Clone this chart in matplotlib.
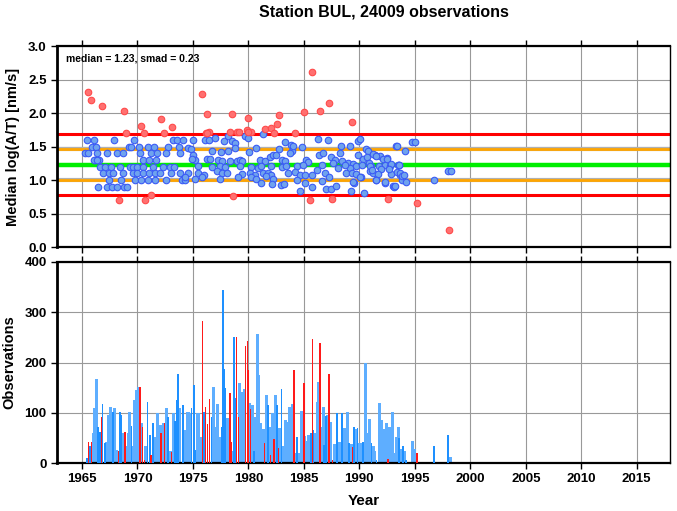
import numpy as np
import matplotlib
matplotlib.use("Agg")
import matplotlib.pyplot as plt

plt.rcParams["font.family"] = ["Liberation Sans", "DejaVu Sans"]
plt.rcParams["font.weight"] = "bold"

# -------------------------
# Datos
# -------------------------

title = "Station BUL, 24009 observations"
median_val = 1.23
smad_val = 0.23

# puntos dentro de 2*smad (azules)
blue_years = [
    1965.48, 1966.08, 1967.91, 1969.71, 1973.23, 1973.53, 1974.10,
    1965.87, 1966.26, 1969.26, 1969.41, 1970.16, 1970.91, 1971.49, 1972.77, 1973.74,
    1965.27, 1965.57, 1966.38, 1967.28, 1968.18, 1968.72, 1970.23, 1971.22, 1971.78, 1972.57, 1973.83,
    1966.17, 1966.56, 1970.47, 1971.06, 1971.67, 1966.08, 1966.32,
    1966.62, 1967.07, 1967.61, 1968.42, 1969.32, 1969.62, 1969.93, 1970.52, 1971.37, 1972.32, 1972.93, 1973.29,
    1966.86, 1967.46, 1967.82, 1968.66, 1969.56, 1969.98, 1970.52, 1971.06, 1971.58, 1972.03, 1972.99, 1973.83,
    1967.46, 1968.51, 1969.77, 1970.32, 1970.97, 1971.58, 1972.57, 1973.98, 1974.28,
    1966.47, 1967.28, 1967.67, 1968.12, 1968.78, 1969.08,
    # 1974 - 1984
    1975.03, 1976.08, 1976.45, 1976.98, 1977.82, 1978.18, 1978.48, 1978.78, 1979.68, 1979.98, 1981.33, 1983.28, 1983.88,
    1974.58, 1974.82, 1976.68, 1977.52, 1978.18, 1978.78, 1980.10, 1980.70, 1982.80, 1983.90,
    1975.03, 1975.18, 1974.88, 1976.23, 1976.53, 1977.28, 1977.58, 1978.33, 1978.93, 1979.23, 1979.38,
    1981.03, 1981.48, 1981.93, 1982.23, 1982.53, 1983.00, 1983.28, 1983.78,
    1975.48, 1976.68, 1977.43, 1977.88, 1979.23, 1980.28, 1980.88, 1981.18, 1982.08, 1983.00, 1983.40,
    1974.58, 1975.48, 1976.03, 1977.13, 1977.63, 1978.03, 1979.43, 1980.13, 1980.58, 1981.33, 1981.78, 1982.08, 1983.58,
    1974.28, 1975.18, 1975.78, 1977.43, 1979.08, 1980.28, 1980.73, 1981.63, 1982.23,
    1981.13, 1982.13, 1982.93, 1983.18,
    # 1984 - 1999
    1984.04, 1984.79, 1986.29, 1987.19, 1988.39, 1989.14, 1989.89, 1990.04, 1990.64, 1990.79, 1993.28,
    1986.38, 1986.74, 1987.49, 1988.30, 1989.89, 1990.34, 1991.39, 1991.90, 1992.53, 1990.70,
    1985.18, 1985.39, 1984.40, 1984.88, 1986.59, 1987.79, 1988.48, 1988.99, 1989.44, 1989.74,
    1990.28, 1991.09, 1991.78, 1992.29, 1992.74, 1993.49, 1988.09, 1989.14, 1990.94, 1991.99,
    1984.19, 1984.64, 1985.09, 1985.69, 1986.14, 1986.89, 1987.28, 1988.84, 1989.38, 1990.19,
    1991.24, 1991.69, 1992.89,
    1984.34, 1985.09, 1985.69, 1986.59, 1987.04, 1987.49, 1987.94, 1989.50, 1991.54, 1992.29,
    1993.04, 1989.23, 1990.40, 1984.64,
    1991.24, 1991.54, 1992.14, 1992.50, 1990.88, 1993.58, 1992.89, 1987.64, 1988.69, 1990.94,
    1991.18, 1992.68, 1993.64, 1989.68, 1990.10, 1991.48, 1992.30, 1989.44, 1993.10, 1993.88,
    1993.35, 1994.10, 1994.76, 1995.00, 1993.56, 1993.35, 1993.65, 1993.86, 1994.04, 1994.19,
    1993.20, 1996.74, 1998.00, 1998.24,
]
blue_vals = [
    1.60, 1.60, 1.60, 1.60, 1.60, 1.60, 1.60,
    1.50, 1.50, 1.50, 1.50, 1.50, 1.50, 1.50, 1.50, 1.50,
    1.40, 1.40, 1.40, 1.40, 1.40, 1.40, 1.40, 1.40, 1.40, 1.40, 1.40,
    1.30, 1.30, 1.30, 1.30, 1.30, 1.30, 1.30,
    1.20, 1.20, 1.20, 1.20, 1.20, 1.20, 1.20, 1.20, 1.20, 1.20, 1.20, 1.20,
    1.10, 1.10, 1.10, 1.10, 1.10, 1.10, 1.10, 1.10, 1.10, 1.10, 1.10, 1.10,
    1.00, 1.00, 1.00, 1.00, 1.00, 1.00, 1.00, 1.00, 1.00,
    0.90, 0.90, 0.90, 0.90, 0.90, 0.90,
    # 1974 - 1984
    1.60, 1.60, 1.60, 1.63, 1.58, 1.65, 1.58, 1.55, 1.65, 1.62, 1.68, 1.57, 1.52,
    1.48, 1.46, 1.44, 1.42, 1.43, 1.48, 1.42, 1.48, 1.47, 1.44,
    1.37, 1.30, 1.32, 1.31, 1.32, 1.30, 1.28, 1.28, 1.29, 1.30, 1.28,
    1.30, 1.28, 1.35, 1.37, 1.37, 1.30, 1.28, 1.40,
    1.21, 1.20, 1.21, 1.20, 1.21, 1.20, 1.18, 1.21, 1.21, 1.20, 1.21,
    1.10, 1.10, 1.08, 1.13, 1.10, 1.10, 1.09, 1.10, 1.08, 1.10, 1.11, 1.08, 1.10,
    1.04, 1.02, 1.04, 1.01, 1.05, 1.04, 1.01, 1.06, 1.01,
    0.96, 0.94, 0.93, 0.94,
    # 1984 - 1999
    1.51, 1.49, 1.61, 1.59, 1.51, 1.51, 1.58, 1.61, 1.46, 1.44, 1.51,
    1.37, 1.40, 1.35, 1.41, 1.37, 1.31, 1.37, 1.36, 1.33, 1.35,
    1.30, 1.27, 1.21, 1.22, 1.22, 1.30, 1.29, 1.25, 1.24, 1.21,
    1.22, 1.21, 1.21, 1.22, 1.21, 1.22, 1.18, 1.18, 1.14, 1.16,
    1.12, 1.07, 1.07, 1.07, 1.15, 1.10, 1.05, 1.10, 1.10, 1.04,
    1.11, 1.09, 1.09,
    1.00, 0.95, 0.90, 0.99, 0.86, 0.87, 0.91, 0.95, 1.00, 0.96,
    0.91, 0.84, 0.80, 0.84,
    1.39, 1.36, 1.31, 1.32, 1.26, 1.22, 1.24, 1.25, 1.22, 1.21,
    1.15, 1.16, 1.07, 1.09, 1.04, 1.00, 0.97, 0.97, 0.90, 1.00,
    1.51, 1.44, 1.56, 1.57, 1.22, 1.12, 1.11, 1.06, 1.07, 0.97,
    0.91, 1.00, 1.14, 1.14,
]

# puntos fuera de 2*smad (rojos)
red_years = [
    1965.57, 1965.81, 1966.77, 1968.75, 1970.29, 1972.09, 1973.08, 1968.96, 1970.61, 1972.41,
    1968.30, 1970.70, 1971.21, 1975.84, 1976.29, 1976.14, 1976.47, 1978.48, 1978.33, 1978.57,
    1978.99, 1979.84, 1979.93, 1980.23, 1981.49, 1982.00, 1982.30, 1982.54, 1982.72, 1984.16,
    1985.00, 1985.75, 1986.44, 1987.28, 1989.35, 1985.54, 1987.58, 1992.60, 1995.20, 1998.06,
    1979.14, 1979.98, 1976.23,
]
red_vals = [
    2.32, 2.20, 2.10, 2.03, 1.80, 1.91, 1.79, 1.70, 1.70, 1.70,
    0.70, 0.70, 0.77, 2.29, 1.99, 1.70, 1.71, 1.99, 1.72, 0.76,
    1.72, 1.74, 1.93, 1.71, 1.76, 1.78, 1.70, 1.84, 1.97, 1.70,
    2.02, 2.61, 2.03, 2.15, 1.86, 0.70, 0.71, 0.72, 0.66, 0.26,
    1.71, 1.72, 1.70,
]

# barras de observaciones
dark_years = [
    1965.42, 1965.72, 1966.47, 1966.62, 1966.86, 1967.07, 1967.82, 1968.42, 1968.57, 1969.47,
    1970.91, 1971.13, 1971.37, 1972.78, 1973.38, 1973.59, 1973.68, 1974.13, 1974.88, 1975.09,
    1975.24, 1975.99, 1976.68, 1977.58, 1977.70, 1977.82, 1977.94, 1978.72, 1978.84, 1980.49,
    1981.78, 1982.56, 1982.98, 1984.40, 1985.63, 1985.84, 1986.83, 1986.98, 1988.39, 1989.08,
    1989.53, 1989.83, 1990.34, 1991.09, 1991.54, 1993.55, 1993.94, 1994.24, 1996.74, 1998.00,
    1988.00, 1988.45,
]
dark_obs = [
    9, 33, 72, 62, 117, 40, 102, 102, 96, 74,
    122, 56, 79, 92, 84, 125, 177, 115, 109, 155,
    26, 102, 92, 72, 344, 188, 149, 251, 129, 23,
    115, 115, 147, 52, 60, 66, 36, 94, 97, 39,
    71, 69, 42, 40, 5, 49, 33, 5, 34, 56,
    100, 100,
]
light_years = [
    1966.08, 1966.17, 1966.32, 1967.22, 1967.37, 1967.58, 1967.97, 1968.12, 1968.72, 1969.02,
    1969.17, 1969.32, 1969.62, 1969.77, 1969.92, 1970.07, 1970.37, 1970.76, 1971.58, 1971.79,
    1972.03, 1972.33, 1972.63, 1972.93, 1973.23, 1973.83, 1974.28, 1974.49, 1974.58, 1974.73,
    1975.42, 1975.54, 1975.72, 1976.89, 1977.04, 1977.22, 1977.43, 1978.12, 1978.63, 1979.23,
    1979.38, 1979.62, 1980.13, 1980.34, 1980.67, 1980.79, 1980.94, 1981.12, 1981.33, 1981.63,
    1981.93, 1982.17, 1982.44, 1982.83, 1983.19, 1983.34, 1983.52, 1983.73, 1983.83, 1983.98,
    1984.22, 1984.58, 1984.70, 1984.82, 1985.09, 1985.24, 1985.39, 1985.54, 1986.05, 1986.20,
    1986.29, 1986.59, 1986.74, 1987.13, 1987.40, 1987.79, 1988.18, 1988.54, 1988.69, 1988.90,
    1989.29, 1989.68, 1990.04, 1990.19, 1990.55, 1990.70, 1990.88, 1991.24, 1991.39, 1991.78,
    1991.84, 1991.99, 1992.14, 1992.29, 1992.44, 1992.74, 1992.98, 1993.13, 1993.34, 1993.49,
    1993.73, 1994.09, 1994.78, 1994.99, 1998.21,
]
light_obs = [
    59, 109, 167, 41, 96, 111, 109, 26, 59, 33,
    59, 102, 33, 125, 145, 151, 79, 33, 52, 99,
    76, 80, 109, 23, 99, 109, 66, 102, 102, 99,
    99, 99, 52, 152, 72, 117, 52, 89, 24, 159,
    141, 147, 119, 115, 92, 257, 175, 79, 68, 135,
    72, 99, 135, 69, 33, 86, 82, 112, 79, 117,
    19, 19, 16, 104, 54, 44, 56, 13, 59, 122,
    162, 72, 112, 96, 82, 38, 42, 59, 69, 101,
    38, 67, 39, 40, 200, 59, 87, 33, 23, 34,
    120, 86, 13, 67, 79, 72, 102, 19, 51, 72,
    27, 23, 43, 27, 11,
]
redbar_years = [
    1965.57, 1965.84, 1966.74, 1968.27, 1968.87, 1970.22, 1970.46, 1970.61, 1971.22, 1972.12,
    1972.42, 1973.08, 1975.84, 1976.14, 1976.29, 1976.47, 1978.33, 1978.48, 1978.93, 1979.08,
    1979.74, 1979.89, 1979.98, 1980.22, 1981.48, 1982.02, 1982.32, 1982.71, 1984.10, 1985.00,
    1985.75, 1986.44, 1987.28, 1987.58, 1989.38, 1992.59, 1995.20,
]
redbar_obs = [
    42, 41, 92, 23, 62, 151, 72, 6, 16, 60,
    80, 21, 283, 112, 78, 127, 139, 42, 250, 92,
    233, 243, 185, 107, 40, 16, 47, 29, 186, 159,
    247, 238, 177, 5, 31, 7, 19,
]

xticks = list(range(1965, 2020, 5))

# -------------------------
# Figura
# -------------------------

fig = plt.figure(figsize=(6.77, 5.11), dpi=100)
ax1 = fig.add_axes([57 / 677, 1 - 247 / 511, 613 / 677, 201 / 511])
ax2 = fig.add_axes([57 / 677, 1 - 463 / 511, 613 / 677, 201 / 511])

fig.text(384 / 677, 1 - 12 / 511, title, ha="center", va="center",
         fontsize=11.5, fontweight="bold")

for ax in (ax1, ax2):
    ax.set_xlim(1962.75, 2018)
    ax.set_xticks(xticks)
    ax.grid(True, color="#999999", lw=0.8, zorder=0)
    ax.set_axisbelow(True)
    ax.tick_params(axis="both", direction="out", length=4, width=1,
                   labelsize=9.5, top=True, right=False)
    for s in ("top", "bottom"):
        ax.spines[s].set_linewidth(1.6)
    ax.spines["left"].set_linewidth(2.0)
    ax.spines["right"].set_linewidth(1.0)

# panel superior
lo2, lo1 = median_val - 2 * smad_val, median_val - smad_val
hi1, hi2 = median_val + smad_val, median_val + 2 * smad_val
ax1.axhline(median_val, color="#00EE00", lw=3.2, zorder=2)
for y in (lo1, hi1):
    ax1.axhline(y, color="#B0B0B0", lw=3.0, zorder=2)
    ax1.axhline(y, color="#FFA500", lw=2.0, zorder=2)
for y in (lo2, hi2):
    ax1.axhline(y, color="#FF0000", lw=2.2, zorder=2)

ax1.scatter(blue_years, blue_vals, s=22, facecolor="#6FA3EE", edgecolor="#3B5BF5",
            linewidths=0.8, zorder=3)
ax1.scatter(red_years, red_vals, s=22, facecolor="#FF7070", edgecolor="#FF4A4A",
            linewidths=0.8, zorder=3)

ax1.set_ylim(0, 3)
ax1.set_yticks(np.arange(0, 3.01, 0.5))
ax1.set_yticklabels([f"{v:.1f}" for v in np.arange(0, 3.01, 0.5)], fontweight="bold")
ax1.set_xticklabels([])
ax1.set_ylabel("Median log(A/T) [nm/s]", fontsize=10.5, fontweight="bold", labelpad=6)
ax1.text(0.015, 0.965, f"median = {median_val:.2f}, smad = {smad_val:.2f}",
         transform=ax1.transAxes, ha="left", va="top", fontsize=7.5, fontweight="bold")

# panel inferior
ax2.bar(light_years, light_obs, width=0.28, color="#5EAEFF", lw=0, zorder=2)
ax2.bar(dark_years, dark_obs, width=0.16, color="#1E90FF", lw=0, zorder=3)
ax2.bar(redbar_years, redbar_obs, width=0.12, color="#FF1A1A", lw=0, zorder=4)

ax2.set_ylim(0, 400)
ax2.set_yticks([0, 100, 200, 300, 400])
ax2.set_yticklabels(["0", "100", "200", "300", "400"], fontweight="bold")
ax2.set_xticklabels([str(x) for x in xticks], fontweight="bold")
ax2.set_ylabel("Observations", fontsize=10.5, fontweight="bold", labelpad=6)
ax2.set_xlabel("Year", fontsize=11, fontweight="bold", labelpad=6)

fig.savefig("out.png", dpi=100)
